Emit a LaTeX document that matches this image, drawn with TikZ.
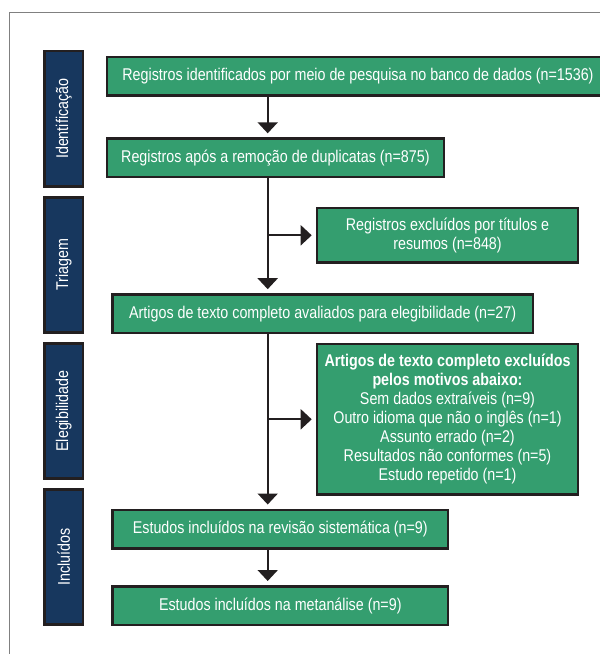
\documentclass[tikz,border=0pt]{standalone}
\usepackage{fontspec}
\setmainfont{Liberation Sans}[FakeStretch=0.84]
\usetikzlibrary{arrows.meta}
\definecolor{boxgreen}{HTML}{349E6F}
\definecolor{stageblue}{HTML}{17375E}
\definecolor{edgegray}{HTML}{231F20}
\tikzset{>={Triangle[width=20pt,length=11pt]}}
\tikzset{
  flowbox/.style={draw=edgegray,line width=2.5pt,fill=boxgreen,text=white,align=center,inner sep=0pt,minimum height=38.5pt},
  stagebar/.style={draw=edgegray,line width=2.5pt,fill=stageblue,text=white,rotate=90,inner sep=0pt,minimum width=135.2pt,minimum height=38.5pt},
  flowline/.style={line width=2pt,edgegray,->,shorten >=4pt}
}

\begin{document}
\begin{tikzpicture}[x=1pt,y=-1pt,every node/.style={font=\fontsize{17}{19}\selectfont}]
  \useasboundingbox (0,0) rectangle (600,654);
  % Frame
  \draw[line width=1pt,gray] (9.7,700) |- (700,12.7);

  % Stages
  \node[stagebar] (ident) at (63.8,118.8) {Identificação};
  \node[stagebar] (triag) at (63.8,265) {Triagem};
  \node[stagebar] (elig) at (63.8,411.1) {Elegibilidade};
  \node[stagebar] (incl) at (63.8,557.1) {Incluídos};

  % Boxes
  \node[flowbox,minimum width=501.8pt] (found) at (358,76.2) {Registros identificados por meio de pesquisa no banco de dados (n=1536)};
  \node[flowbox,minimum width=336.8pt] (dedup) at (275.4,157.8) {Registros após a remoção de duplicatas (n=875)};
  \node[flowbox,minimum width=261.1pt,minimum height=54.8pt] (exclA) at (447.5,235.3) {Registros excluídos por títulos e\\resumos (n=848)};
  \node[flowbox,minimum width=420.2pt] (full) at (322.7,313.7) {Artigos de texto completo avaliados para elegibilidade (n=27)};
  \node[flowbox,minimum width=261.1pt,minimum height=150.2pt] (exclB) at (447.5,419.3) {\textbf{Artigos de texto completo excluídos}\\\textbf{pelos motivos abaixo:}\\Sem dados extraíveis (n=9)\\Outro idioma que não o inglês (n=1)\\Assunto errado (n=2)\\Resultados não conformes (n=5)\\Estudo repetido (n=1)};
  \node[flowbox,minimum width=335.5pt] (review) at (280.3,529) {Estudos incluídos na revisão sistemática (n=9)};
  \node[flowbox,minimum width=335.5pt] (meta) at (280.3,605.5) {Estudos incluídos na metanálise (n=9)};

  % Arrows
  \coordinate (trunk) at (267.7,0);
  \draw[flowline] (found.south -| trunk) -- (dedup.north -| trunk);
  \draw[flowline] (dedup.south -| trunk) -- (full.north -| trunk);
  \draw[flowline] (trunk |- exclA.west) -- (exclA.west);
  \draw[flowline] (full.south -| trunk) -- (review.north -| trunk);
  \draw[flowline] (trunk |- exclB.west) -- (exclB.west);
  \draw[flowline] (review.south -| trunk) -- (meta.north -| trunk);
\end{tikzpicture}
\end{document}
